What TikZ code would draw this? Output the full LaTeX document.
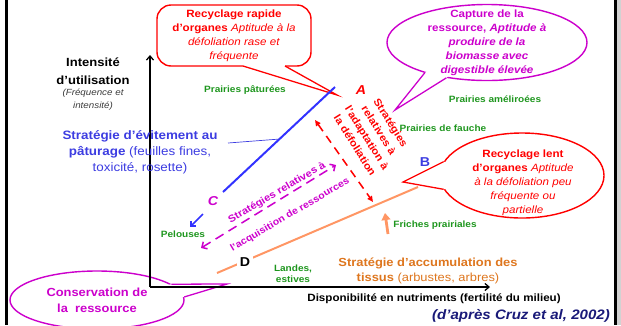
\documentclass[tikz,border=0pt]{standalone}
\usepackage{fontspec}
\setmainfont{Liberation Sans}[FakeStretch=1.1]
\usetikzlibrary{
    arrows.meta,
    calc,
    shapes.geometric
}
\definecolor{redink}{RGB}{255,0,0}
\definecolor{plum}{RGB}{204,0,204}
\definecolor{avoidblue}{RGB}{60,60,225}
\definecolor{lineblue}{RGB}{50,50,255}
\definecolor{grassgreen}{RGB}{30,150,30}
\definecolor{woodorange}{RGB}{222,118,30}
\definecolor{salmon}{RGB}{255,150,100}
\definecolor{navy}{RGB}{25,25,120}
\definecolor{notegray}{RGB}{60,60,60}
\tikzset{
    bubbletext/.style={
        align=center,
        inner sep=0pt,
        font=\fontsize{9}{12}\selectfont
    },
    rapidbox/.style={
        rectangle,
        rounded corners=12pt,
        draw=redink,
        line width=1.2pt,
        fill=white,
        minimum width=4.62cm,
        minimum height=1.83cm
    },
    bubble/.style={
        ellipse,
        line width=1.2pt,
        fill=white,
        inner sep=0pt
    },
    tail/.style={
        line width=1.1pt,
        line join=miter,
        miter limit=25
    },
    meadow/.style={
        font=\fontsize{7.8}{9.4}\selectfont\bfseries,
        text=grassgreen,
        align=center,
        inner sep=0pt
    },
    pole/.style={
        font=\fontsize{11}{13}\selectfont\bfseries,
        inner sep=1.5pt
    },
    axis/.style={
        line width=1.1pt,
        -{Straight Barb[length=3.5pt,width=6pt]}
    },
    axislabel/.style={
        font=\fontsize{10.1}{15.3}\selectfont\bfseries,
        align=center,
        inner sep=0pt
    },
    axisnote/.style={
        font=\fontsize{7.6}{11}\selectfont\itshape,
        text=notegray,
        align=center,
        inner sep=0pt
    },
    strategy/.style={
        font=\fontsize{10.4}{13.6}\selectfont,
        align=center,
        inner sep=0pt
    },
    slanttext/.style={
        font=\fontsize{8.8}{12}\selectfont\bfseries,
        align=center,
        inner sep=0pt
    },
    adaptarrow/.style={
        draw=redink,
        line width=1.3pt,
        dash pattern=on 7pt off 5pt,
        {Triangle[length=5pt,width=4.5pt]}-{Triangle[length=5pt,width=4.5pt]}
    },
    acquirearrow/.style={
        draw=plum,
        line width=1.3pt,
        dash pattern=on 8pt off 5pt,
        {Straight Barb[length=3.5pt,width=7pt]}-{Straight Barb[length=3.5pt,width=7pt]}
    }
}

\begin{document}
\begin{tikzpicture}[x=0.03cm, y=-0.03cm]

    \useasboundingbox (0,0) rectangle (621,325);
    \clip (0,0) rectangle (621,325);

    % Frame
    \fill[black] (5,0) rectangle (8,325);
    \fill[black] (614,0) rectangle (617,325);
    \fill[gray!35] (617,0) rectangle (621,325);

    % Callouts
    \node[rapidbox] (rapid) at (234,35.5) {};
    \node[bubbletext, text=redink] (rapidText) at (rapid.center)
        {\textbf{Recyclage rapide}\\\textbf{d’organes} \textit{Aptitude à la}\\\textit{défoliation rase et}\\\textit{fréquente}};
    \coordinate (rapidTip) at (337,95);
    \fill[white] (243,63) -- (243,66) -- (rapidTip) -- (285,66) -- (285,63) -- cycle;
    \draw[tail, redink] (243,66) -- (rapidTip) -- (285,66);

    \node[bubble, draw=plum, minimum width=6cm, minimum height=2.28cm] (capture) at (487,42.5) {};
    \node[bubbletext, text=plum, font=\fontsize{9}{12}\selectfont\bfseries] (captureText) at (capture.center)
        {Capture de la\\ressource, \textit{Aptitude à}\\\textit{produire de la}\\\textit{biomasse avec}\\\textit{digestible élevée}};
    \coordinate (captureTip) at (395,110);
    \fill[white] ($(capture.206)!3pt!(capture.center)$) -- (capture.206) -- (captureTip)
        -- (capture.221) -- ($(capture.221)!3pt!(capture.center)$) -- cycle;
    \draw[tail, plum] (capture.206) -- (captureTip) -- (capture.221);

    \node[bubble, draw=redink, minimum width=4.92cm, minimum height=2.55cm] (slow) at (522,175.5) {};
    \node[bubbletext, text=redink] (slowText) at (523,183)
        {\textbf{Recyclage lent}\\\textbf{d’organes} \textit{Aptitude}\\\textit{à la défoliation peu}\\\textit{fréquente ou}\\\textit{partielle}};
    \coordinate (slowTip) at (403,182);
    \fill[white] ($(slow.170)!3pt!(slow.center)$) -- (slow.170) -- (slowTip)
        -- (slow.190) -- ($(slow.190)!3pt!(slow.center)$) -- cycle;
    \draw[tail, redink] (slow.170) -- (slowTip) -- (slow.190);

    \node[bubble, draw=plum, minimum width=5.22cm, minimum height=1.74cm] (keep) at (97,300) {};
    \node[bubbletext, text=plum, font=\fontsize{10}{13.6}\selectfont\bfseries] (keepText) at (keep.center)
        {Conservation de\\la~ ressource};
    \coordinate (keepTip) at (227,284);
    \fill[white] ($(keep.12)!3pt!(keep.center)$) -- (keep.12) -- (keepTip)
        -- (keep.2) -- ($(keep.2)!3pt!(keep.center)$) -- cycle;
    \draw[tail, plum] (keep.12) -- (keepTip) -- (keep.2);

    % Axes
    \coordinate (origin) at (150,287);
    \coordinate (yTip) at (150,55);
    \coordinate (xTip) at (490,287);
    \draw[axis] (origin) -- (yTip);
    \draw[axis] (origin) -- (xTip);

    \node[axislabel] (intensity) at (93,71) {Intensité\\d’utilisation};
    \node[axisnote] (intensityNote) at (93,99.5) {(Fréquence et\\intensité)};
    \node[font=\fontsize{9}{10}\selectfont\bfseries, inner sep=0pt] (nutrients) at (434,299)
        {Disponibilité en nutriments (fertilité du milieu)};
    \node[font=\fontsize{11.7}{13}\selectfont\bfseries\itshape, text=navy, inner sep=0pt] (cruz) at (521,316)
        {(d’après Cruz et al, 2002)};

    % Strategy lines
    \coordinate (blueLow) at (223,192);
    \coordinate (blueHigh) at (335,87);
    \draw[lineblue, line width=1.7pt] (blueLow) -- (blueHigh);
    \coordinate (woodLow) at (217,273);
    \coordinate (woodHigh) at (418,187);
    \draw[salmon, line width=1.7pt] (woodLow) -- (woodHigh);

    \coordinate (lawnFrom) at (203,214);
    \coordinate (lawnTo) at (190,227);
    \draw[lineblue, line width=1.4pt, -{Straight Barb[length=3pt,width=6pt]}] (lawnFrom) -- (lawnTo);
    \coordinate (fallowFrom) at (388,234);
    \coordinate (fallowTo) at (385,213);
    \draw[salmon, line width=2.4pt, -{Triangle[length=6pt,width=7.5pt]}] (fallowFrom) -- (fallowTo);

    \coordinate (adaptTop) at (315,120);
    \coordinate (adaptLow) at (373,202);
    \draw[adaptarrow] (adaptTop) -- (adaptLow);
    \coordinate (acqLow) at (201,248);
    \coordinate (acqTop) at (336,165);
    \draw[acquirearrow] (acqLow) -- (acqTop);

    % Poles
    \node[pole, text=redink, font=\fontsize{11}{13}\selectfont\bfseries\itshape] (poleA) at (361,90) {A};
    \node[pole, text=avoidblue] (poleB) at (425,162) {B};
    \node[pole, text=plum, font=\fontsize{11}{13}\selectfont\bfseries\itshape] (poleC) at (213,201) {C};
    \node[pole, fill=white, inner sep=2.5pt] (poleD) at (245,262) {D};

    % Strategy texts
    \node[strategy, text=avoidblue] (avoid) at (140,152)
        {\textbf{Stratégie d’évitement au}\\\textbf{pâturage} (feuilles fines,\\toxicité, rosette)};
    \coordinate (avoidFrom) at (228,143);
    \coordinate (avoidTo) at (280,139);
    \draw[avoidblue, line width=0.6pt] (avoidFrom) -- (avoidTo);
    \node[strategy, text=woodorange, font=\fontsize{10}{12.8}\selectfont] (wood) at (428,270.5)
        {\textbf{Stratégie d’accumulation des}\\\textbf{tissus} (arbustes, arbres)};

    \node[slanttext, text=redink, rotate=-58] (adapt) at (373,134)
        {Stratégies\\relatives à\\l’adaptation à\\la défoliation};
    \node[slanttext, text=plum, rotate=30.5, font=\fontsize{8.6}{12}\selectfont\bfseries] (acqUp) at (277,193) {Stratégies relatives à};
    \node[slanttext, text=plum, rotate=30.5, font=\fontsize{8.2}{12}\selectfont\bfseries] (acqDown) at (290,215) {l’acquisition de ressources};

    % Vegetation types
    \node[meadow] (grazed) at (245,90) {Prairies pâturées};
    \node[meadow] (improved) at (495,99) {Prairies améliroées};
    \node[meadow] (mown) at (443,128) {Prairies de fauche};
    \node[meadow] (lawns) at (183,234) {Pelouses};
    \node[meadow] (fallow) at (435,225) {Friches prairiales};
    \node[meadow] (heath) at (293,273.5) {Landes,\\estives};

\end{tikzpicture}
\end{document}
